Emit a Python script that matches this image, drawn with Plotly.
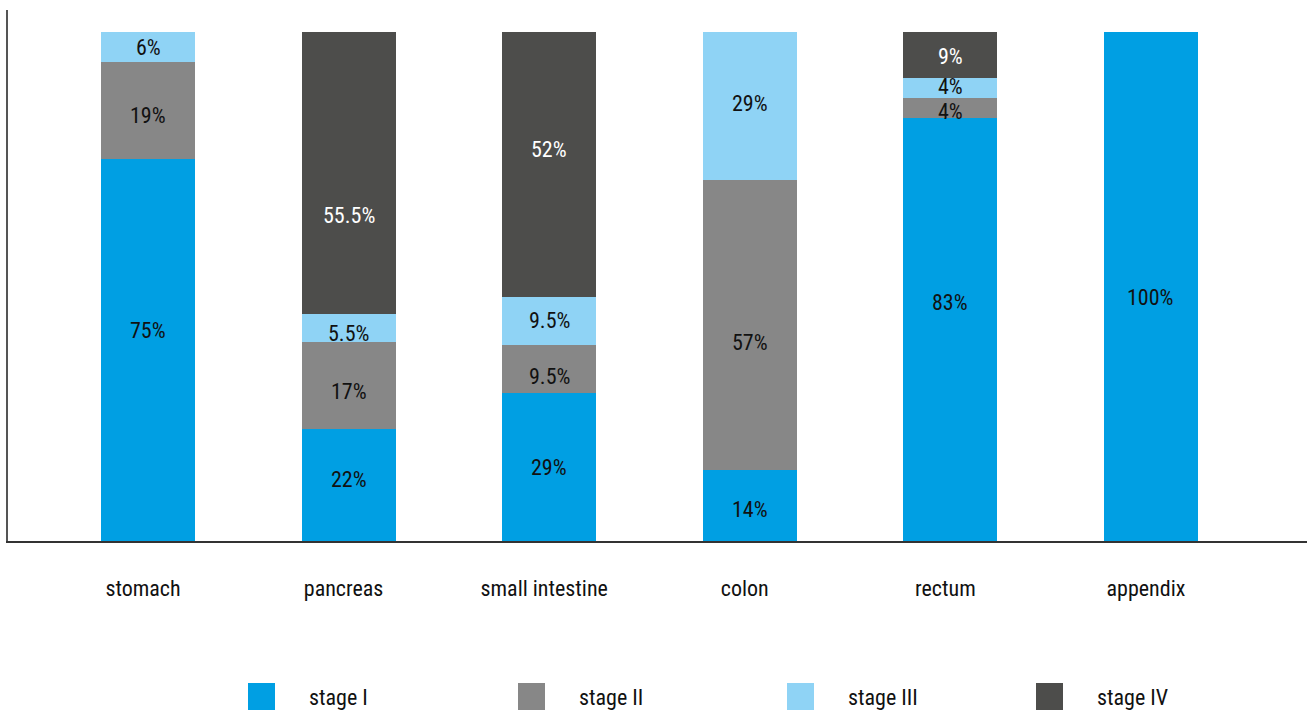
import plotly.graph_objects as go

# Share of cases by stage for each tumour site (percent)
sites = ["stomach", "pancreas", "small intestine", "colon", "rectum", "appendix"]
stage_names = ["stage I", "stage II", "stage III", "stage IV"]
stage_1 = [75, 22, 29, 14, 83, 100]
stage_2 = [19, 17, 9.5, 57, 4, 0]
stage_3 = [6, 5.5, 9.5, 29, 4, 0]
stage_4 = [0, 55.5, 52, 0, 9, 0]

colors = ["#009fe3", "#878787", "#8fd3f5", "#4d4d4b"]
label_colors = ["#111111", "#111111", "#111111", "#ffffff"]
# vertical nudge of each value label (pixels, downward), per stage then site
label_nudge = [
    [-20, -6, 0, 4, -27, 11],
    [5, 6, 7, 18, 3, 0],
    [0, 5, 0, -2, -1, 0],
    [0, 42, -15, 0, 2, 0],
]
FONT = "Liberation Sans Narrow, Roboto Condensed, Roboto, sans-serif"
FS = 22

fig = go.Figure()
stages = [stage_1, stage_2, stage_3, stage_4]
base = [0.0] * len(sites)
annotations = []
for name, vals, col, tcol, nudge in zip(stage_names, stages, colors, label_colors, label_nudge):
    fig.add_trace(go.Bar(
        name=name, x=sites, y=vals, marker=dict(color=col, line=dict(width=0)),
        width=0.469, showlegend=False, hoverinfo="skip",
    ))
    for i, v in enumerate(vals):
        if v > 0:
            annotations.append(dict(
                x=sites[i], y=base[i] + v / 2, xref="x", yref="y",
                text=f"{v:g}%", showarrow=False, yshift=-nudge[i],
                font=dict(size=FS, color=tcol, family=FONT)))
        base[i] += v

# Legend drawn as large swatches with labels underneath the chart
legend_x = [248, 518, 787, 1036]
W, H = 1314, 710
shapes = []
for lx, name, col in zip(legend_x, stage_names, colors):
    shapes.append(dict(type="rect", xref="paper", yref="paper",
                       x0=(lx - 8) / (W - 15), x1=(lx + 27 - 8) / (W - 15),
                       y0=(541 - 710) / 531, y1=(541 - 683) / 531,
                       fillcolor=col, line=dict(width=0)))
    annotations.append(dict(text=name, xref="paper", yref="paper",
                            x=(lx + 59 - 8) / (W - 15), y=(541 - 697) / 531,
                            xanchor="left", yanchor="middle", showarrow=False,
                            font=dict(size=FS, color="#111111", family=FONT)))

fig.update_layout(
    barmode="stack", width=W, height=H,
    margin=dict(l=8, r=7, t=10, b=169),
    plot_bgcolor="white", paper_bgcolor="white",
    font=dict(family=FONT, size=FS, color="#111111"),
    shapes=shapes, annotations=annotations,
)
fig.update_xaxes(range=[-0.698, 5.778], showline=True, linecolor="#333333", linewidth=2,
                 ticks="", showgrid=False, ticklabelstandoff=27, ticklabelshift=-5,
                 tickfont=dict(size=FS, family=FONT, color="#111111"))
fig.update_yaxes(range=[0, 104.3], showline=True, linecolor="#555555", linewidth=2,
                 showticklabels=False, ticks="", showgrid=False, zeroline=False)

fig.write_html("out.html")
